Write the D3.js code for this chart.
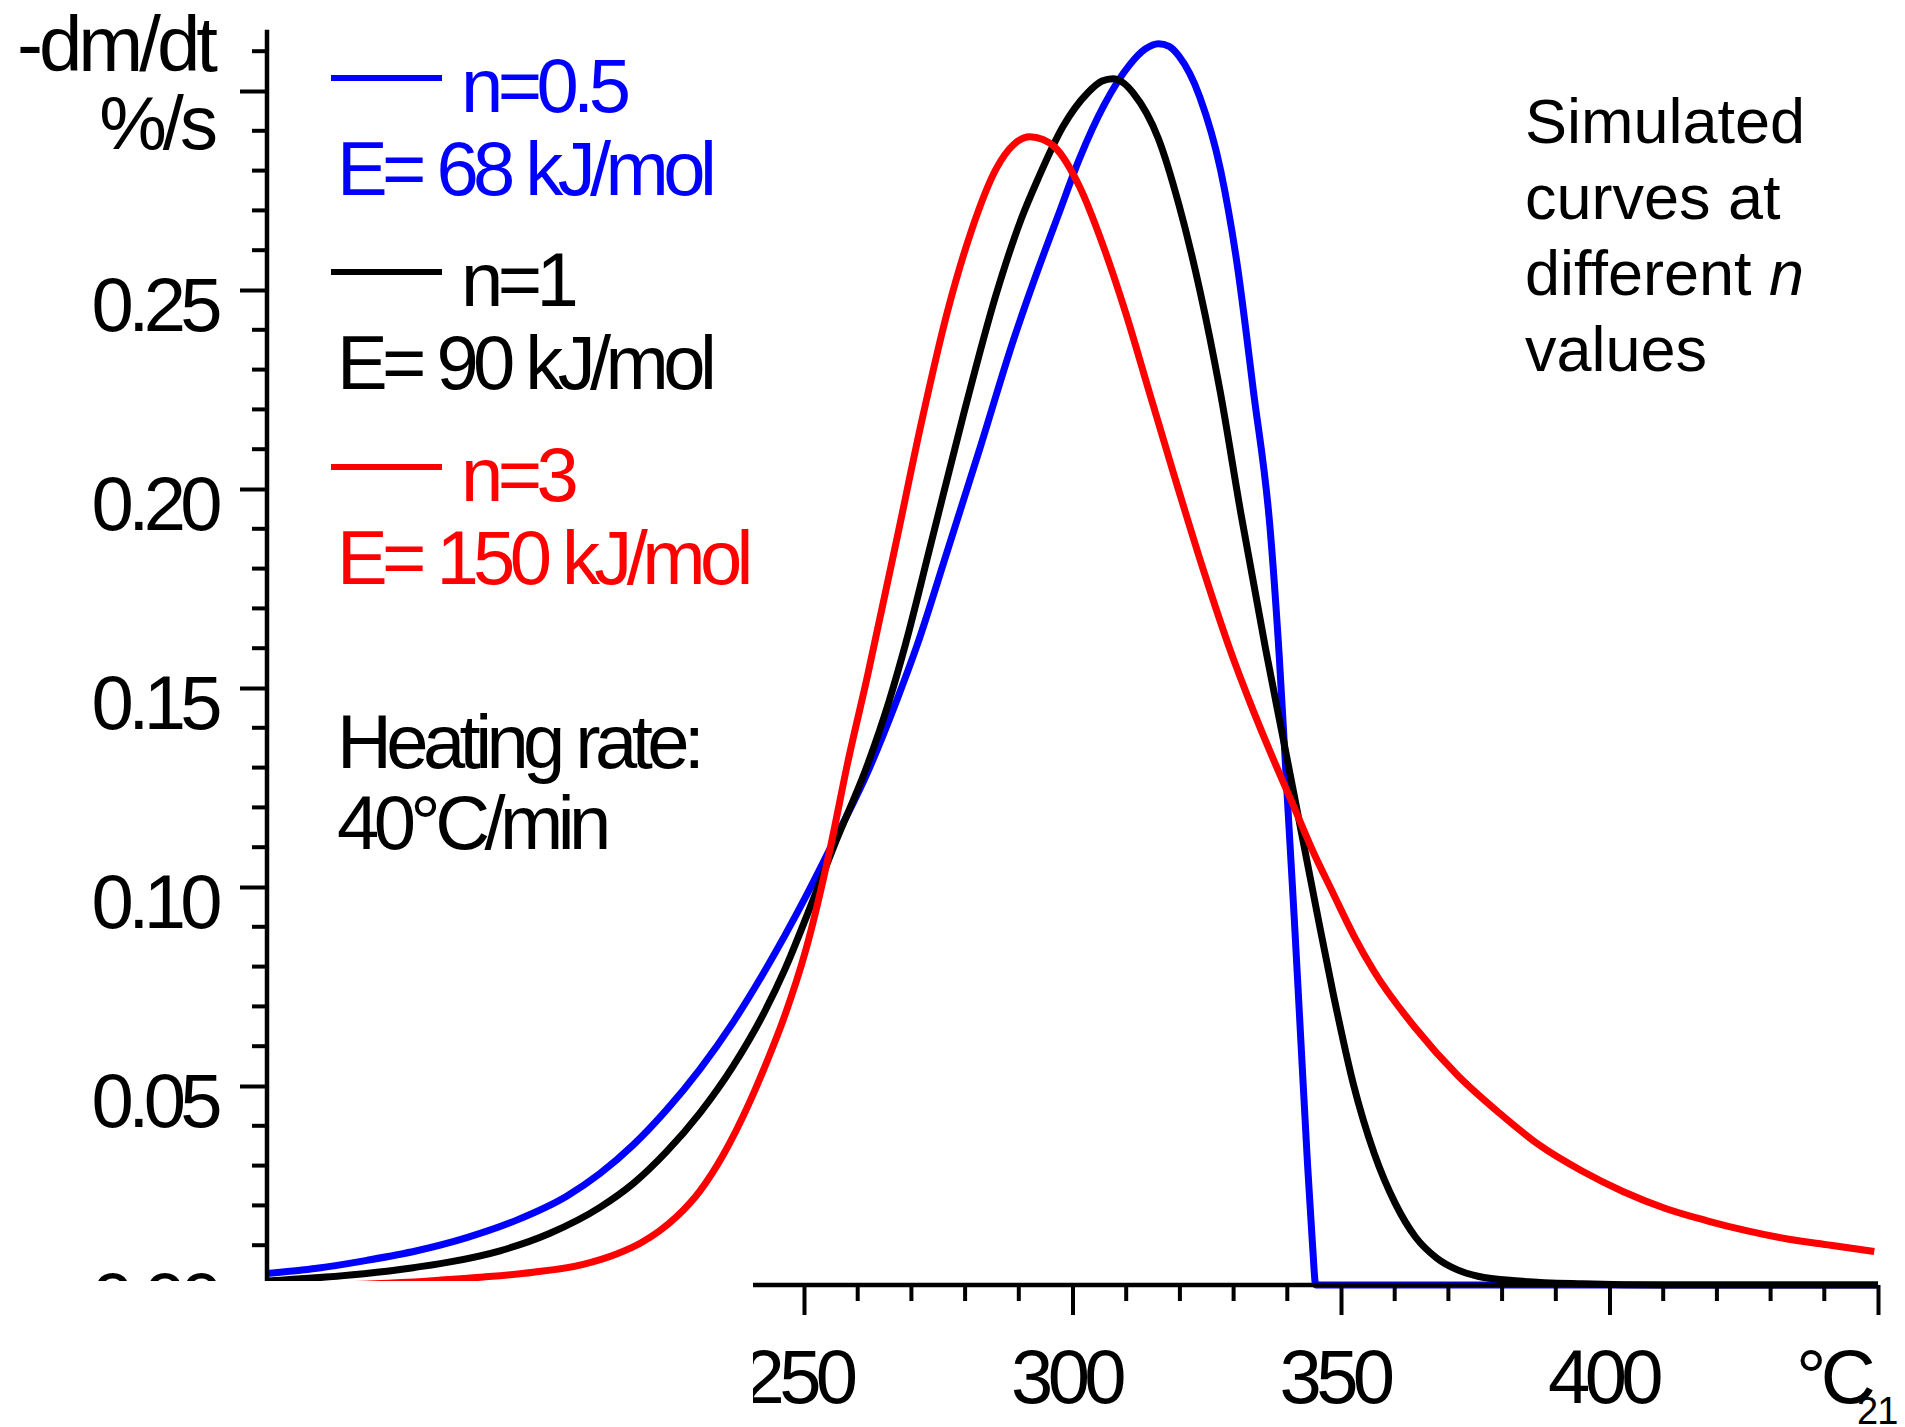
<!DOCTYPE html>
<html><head><meta charset="utf-8">
<script src="https://cdn.jsdelivr.net/npm/d3@7"></script>
<style>
html,body{margin:0;padding:0;background:#fff;}
svg{display:block;}
text{font-family:"Liberation Sans", Arial, sans-serif;}
</style>
</head><body>
<svg id="c" width="1905" height="1427"></svg>
<script>
// ---- data ----
const yMajorTicks = [0, 0.05, 0.10, 0.15, 0.20, 0.25, 0.30];
const yMajorLabels = ["0.00", "0.05", "0.10", "0.15", "0.20", "0.25", ""];
const xMajorTicks = [250, 300, 350, 400, 450];
const xMajorLabels = ["250", "300", "350", "400", ""];

// temperature (°C), -dm/dt (%/s)
const seriesN05 = [[150,0.0029],[159.3,0.0042],[168.6,0.0062],[177.9,0.0086],[187.2,0.0119],[196.5,0.0163],[205.8,0.0223],[212,0.028],[218.2,0.0352],[224.4,0.044],[230.6,0.0542],[236.8,0.066],[242.6,0.0787],[250.3,0.0975],[255,0.11],[261.9,0.129],[267.3,0.147],[271,0.1605],[276.6,0.184],[282.8,0.2104],[289,0.2374],[293.6,0.2552],[297.4,0.269],[301.3,0.283],[305.9,0.2965],[310.6,0.3065],[313.5,0.3105],[316,0.3119],[318,0.3112],[319.8,0.3088],[323.7,0.2985],[327.6,0.28],[330.6,0.257],[333.7,0.2245],[336.8,0.19],[338.5,0.158],[340,0.1225],[341.3,0.092],[342.5,0.062],[343.7,0.032],[344.7,0.01],[345.3,0],[450,0]];
const seriesN1 = [[150,0.001],[165.5,0.0025],[174.8,0.0039],[184.1,0.0058],[193.4,0.0086],[202.7,0.013],[212,0.0195],[218.2,0.0255],[224.4,0.0335],[230.6,0.0432],[236.8,0.055],[242.6,0.0685],[246.5,0.0795],[250.3,0.092],[255.8,0.111],[261.9,0.131],[265.8,0.1465],[268.9,0.161],[273.5,0.1855],[279.7,0.2187],[285.8,0.249],[290.5,0.268],[293.6,0.278],[298.2,0.291],[302.8,0.2995],[305.5,0.3025],[307.5,0.3031],[309.5,0.302],[311.3,0.2995],[316,0.288],[319.8,0.2715],[323.7,0.25],[327.5,0.2245],[331.4,0.1935],[336,0.1595],[339.2,0.1375],[342.3,0.116],[345.4,0.0945],[348.5,0.0735],[352.3,0.0505],[356.2,0.033],[360.1,0.0205],[363.9,0.012],[367.8,0.0068],[371.7,0.0038],[375.5,0.0022],[383.2,0.001],[395,0.0003],[410,0],[450,0]];
const seriesN3 = [[150,0],[165,0.0001],[175,0.0006],[182,0.0012],[190.3,0.002],[199.6,0.0032],[208.9,0.0052],[215.1,0.0078],[219.5,0.0105],[223,0.0135],[226.3,0.0172],[230.6,0.0236],[235,0.0328],[239.9,0.046],[242.6,0.0545],[246.5,0.068],[250.3,0.084],[255,0.1105],[258.1,0.131],[261.9,0.1535],[264.6,0.1705],[267.3,0.1875],[272,0.2175],[276.6,0.244],[281.2,0.265],[285.8,0.2805],[289,0.2865],[292,0.2885],[294.5,0.2878],[296.7,0.2859],[301.3,0.276],[305.9,0.2604],[309.8,0.2447],[314.4,0.2239],[319,0.2031],[324.5,0.1791],[329.5,0.159],[333.1,0.1462],[336.8,0.134],[340.8,0.1215],[344.6,0.1095],[348.5,0.0985],[352.3,0.088],[356.2,0.0787],[363.9,0.0645],[371.7,0.0527],[379.4,0.0433],[387.1,0.035],[394.8,0.0287],[402.5,0.0235],[410.3,0.0193],[418,0.0162],[425.7,0.0136],[433.4,0.0115],[441.2,0.01],[449.3,0.0084]];

const seriesNames = ["n=0.5", "n=1", "n=3"];
const seriesEnergy = ["E= 68 kJ/mol", "E= 90 kJ/mol", "E= 150 kJ/mol"];
const seriesColors = ["#0000ff", "#000000", "#ff0000"];
const seriesData = [seriesN05, seriesN1, seriesN3];

const noteLines = ["Simulated", "curves at", "different ", "values"];
const heatingLines = ["Heating rate:", "40°C/min"];

// ---- layout ----
const svg = d3.select("#c");
const x = d3.scaleLinear().domain([150, 450]).range([267, 1878]);
const y = d3.scaleLinear().domain([0, 0.3]).range([1285, 91]);

const defs = svg.append("defs");
defs.append("clipPath").attr("id", "cut")
  .append("path").attr("d", "M0,0H1905V1427H753V1281H0Z");

const g = svg.append("g").attr("clip-path", "url(#cut)");
const BIG = 76, LS = -5.6;

// curves
const line = d3.line().x(d => x(d[0])).y(d => y(d[1])).curve(d3.curveMonotoneX);
g.append("g").selectAll("path").data(seriesData).join("path")
  .attr("d", line).attr("fill", "none")
  .attr("stroke", (d, i) => seriesColors[i])
  .attr("stroke-width", 7).attr("stroke-linejoin", "round");

// Y axis
const gy = g.append("g").attr("transform", "translate(267,0)");
gy.call(d3.axisLeft(y).tickValues(yMajorTicks).tickSize(27)
  .tickFormat((d, i) => yMajorLabels[i]));
gy.select(".domain").remove();
gy.attr("font-size", null).attr("font-family", null);
gy.selectAll(".tick line").attr("stroke-width", 4);
gy.selectAll(".tick text").attr("x", -50).attr("dy", null).attr("y", 40)
  .attr("font-size", BIG).attr("letter-spacing", LS).attr("fill", "#000");
const yMinor = d3.range(0, 32).filter(i => i % 5 !== 0).map(i => i / 100);
gy.append("g").selectAll("line").data(yMinor).join("line")
  .attr("x1", -15).attr("x2", 0).attr("y1", d => y(d)).attr("y2", d => y(d))
  .attr("stroke", "#000").attr("stroke-width", 4);
gy.append("line").attr("x1", 0).attr("x2", 0)
  .attr("y1", y(0.3154)).attr("y2", y(0))
  .attr("stroke", "#000").attr("stroke-width", 4.5);

// X axis
const gx = g.append("g").attr("transform", `translate(0,${y(0)})`);
gx.call(d3.axisBottom(x).tickValues(xMajorTicks).tickSize(30)
  .tickFormat((d, i) => xMajorLabels[i]));
gx.select(".domain").remove();
gx.attr("font-size", null).attr("font-family", null);
gx.selectAll(".tick line").attr("stroke-width", 4);
gx.selectAll(".tick text").attr("y", 118).attr("dy", null).attr("x", -7)
  .attr("font-size", BIG).attr("letter-spacing", LS).attr("fill", "#000");
const xMinor = d3.range(250, 451, 10).filter(v => v % 50 !== 0);
gx.append("g").selectAll("line").data(xMinor).join("line")
  .attr("x1", d => x(d)).attr("x2", d => x(d)).attr("y1", 0).attr("y2", 16)
  .attr("stroke", "#000").attr("stroke-width", 4);
gx.append("line").attr("x1", x(240.5)).attr("x2", x(450)).attr("y1", 0).attr("y2", 0)
  .attr("stroke", "#000").attr("stroke-width", 4.5);

// unit labels
g.append("text").attr("x", 214).attr("y", 71).attr("text-anchor", "end")
  .attr("font-size", BIG + 2).attr("letter-spacing", -4).text("-dm/dt");
g.append("text").attr("x", 214).attr("y", 149).attr("text-anchor", "end")
  .attr("font-size", BIG).attr("letter-spacing", -4).text("%/s");
g.append("text").attr("x", 1870).attr("y", 1403).attr("text-anchor", "end")
  .attr("font-size", BIG).attr("letter-spacing", LS).text("°C");
g.append("text").attr("x", 1857).attr("y", 1424)
  .attr("font-size", 38).attr("letter-spacing", -1).text("21");

// legend
const legY = [78, 272, 467];
const leg = g.append("g");
seriesNames.forEach((name, i) => {
  leg.append("line").attr("x1", 331).attr("x2", 442)
    .attr("y1", legY[i]).attr("y2", legY[i])
    .attr("stroke", seriesColors[i]).attr("stroke-width", 6);
  leg.append("text").attr("x", 461).attr("y", legY[i] + 34)
    .attr("font-size", BIG).attr("letter-spacing", LS)
    .attr("fill", seriesColors[i]).text(name);
  leg.append("text").attr("x", 337).attr("y", legY[i] + 117)
    .attr("font-size", BIG).attr("letter-spacing", LS)
    .attr("fill", seriesColors[i]).text(seriesEnergy[i]);
});

// heating rate
heatingLines.forEach((t, i) => {
  g.append("text").attr("x", 337).attr("y", 768 + i * 81)
    .attr("font-size", BIG).attr("letter-spacing", LS).text(t);
});

// note
const note = g.append("g");
noteLines.forEach((t, i) => {
  const tx = note.append("text").attr("x", 1525).attr("y", 143 + i * 76)
    .attr("font-size", 63).text(t);
  if (i === 2) tx.append("tspan").attr("font-style", "italic").text("n");
});
</script>
</body></html>
